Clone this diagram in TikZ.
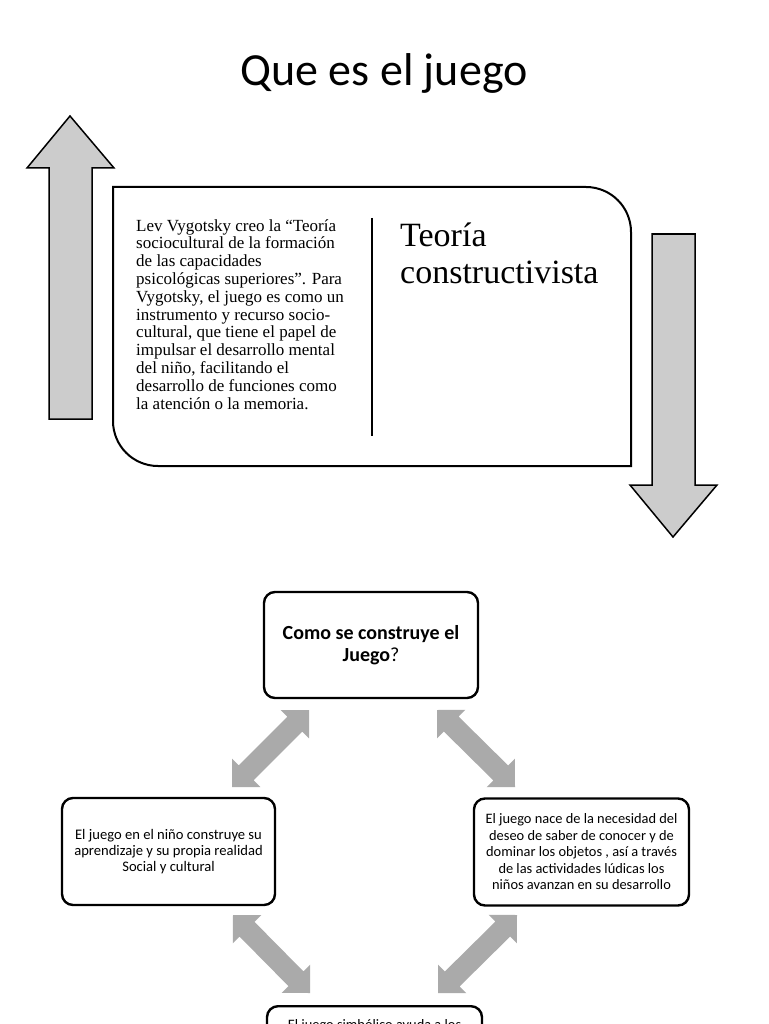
\documentclass[tikz,border=0pt]{standalone}
\usepackage{fontspec}
\setmainfont{Liberation Serif}
\newfontfamily\calibri{Carlito}
\usetikzlibrary{calc}
\definecolor{arrowgray}{RGB}{204,204,204}
\definecolor{dblgray}{RGB}{170,170,170}
\tikzset{
  bigarrow/.style={draw=black, line width=1.5pt, fill=arrowgray, line join=miter},
  bigbox/.style={draw=black, line width=2pt},
  smartbox/.style={draw=black, line width=2.4pt, rounded corners=11pt, fill=white,
    inner sep=0pt, align=center},
  dblarrow/.style={fill=dblgray},
}
\newcommand{\myDblArrow}[2]{%
  \coordinate (h1) at ($(#1)!20pt!(#2)$);
  \coordinate (h2) at ($(#2)!20pt!(#1)$);
  \fill[dblarrow] (#1) -- ($(h1)!20pt!90:(#1)$) -- ($(h1)!10.5pt!90:(#1)$)
    -- ($(h2)!10.5pt!-90:(#2)$) -- ($(h2)!20pt!-90:(#2)$) -- (#2)
    -- ($(h2)!20pt!90:(#2)$) -- ($(h2)!10.5pt!90:(#2)$)
    -- ($(h1)!10.5pt!-90:(#1)$) -- ($(h1)!20pt!-90:(#1)$) -- cycle;
}
\begin{document}
\begin{tikzpicture}[x=1pt,y=-1pt]
\useasboundingbox (0,0) rectangle (768,1024);
\clip (0,0) rectangle (768,1024);
\fill[white] (0,0) rectangle (768,1024);

% title
\node[font=\calibri\fontsize{46}{46}\selectfont, anchor=base, inner sep=0pt] (title) at (384,86) {Que es el juego};

% big up arrow
\draw[bigarrow] (70,116) -- (114,168) -- (92,168) -- (92,419) -- (49,419) -- (49,168) -- (27,168) -- cycle;
% big down arrow
\draw[bigarrow] (652,234) -- (695,234) -- (695,485) -- (717,485) -- (673,537) -- (630,485) -- (652,485) -- cycle;

% big box
\draw[bigbox] (113,187) -- (586,187) arc[start angle=90, end angle=0, radius=45pt]
  -- (631,466) -- (158,466) arc[start angle=270, end angle=180, radius=45pt] -- cycle;
\draw[line width=2pt] (372,218) -- (372,436);

\node[anchor=north west, inner sep=0pt, align=left,
  font=\fontsize{17}{17.8}\selectfont] (vyg) at (136,219) {Lev Vygotsky creo la “Teoría\\
sociocultural de la formación\\
de las capacidades\\
psicológicas superiores”. Para\\
Vygotsky, el juego es como un\\
instrumento y recurso socio-\\
cultural, que tiene el papel de\\
impulsar el desarrollo mental\\
del niño, facilitando el\\
desarrollo de funciones como\\
la atención o la memoria.};

\node[anchor=north west, inner sep=0pt, align=left,
  font=\fontsize{34}{37}\selectfont] (teo) at (400,223) {Teoría\\constructivista};

% smart art
\node[smartbox, minimum width=214pt, minimum height=106pt,
  font=\calibri\fontsize{20}{22}\selectfont] (q) at (371,645)
  {\textbf{Como se construye el}\\\textbf{Juego}?};
\node[smartbox, minimum width=213pt, minimum height=107pt,
  font=\calibri\fontsize{14.6}{16.3}\selectfont] (l) at (168.5,851.5)
  {El juego en el niño construye su\\aprendizaje y su propia realidad\\Social y cultural};
\node[smartbox, minimum width=215pt, minimum height=107pt,
  font=\calibri\fontsize{14.4}{16.5}\selectfont] (r) at (581.5,852)
  {El juego nace de la necesidad del\\deseo de saber de conocer y de\\dominar los objetos , así a través\\de las actividades lúdicas los\\niños avanzan en su desarrollo};
\node[smartbox, minimum width=215pt, minimum height=107pt, anchor=north] (b) at (374.5,1005) {};
\node[font=\calibri\fontsize{14.4}{16.5}\selectfont, anchor=base, inner sep=0pt] (bt) at (374.5,1029)
  {El juego simbólico ayuda a los};

% double arrows
\coordinate (a1s) at (309,710); \coordinate (a1e) at (232,787);
\coordinate (a2s) at (437,710); \coordinate (a2e) at (515,787);
\coordinate (a3s) at (233,915); \coordinate (a3e) at (310,993);
\coordinate (a4s) at (517,915); \coordinate (a4e) at (438,993);
\myDblArrow{a1s}{a1e}
\myDblArrow{a2s}{a2e}
\myDblArrow{a3s}{a3e}
\myDblArrow{a4s}{a4e}
\end{tikzpicture}
\end{document}
